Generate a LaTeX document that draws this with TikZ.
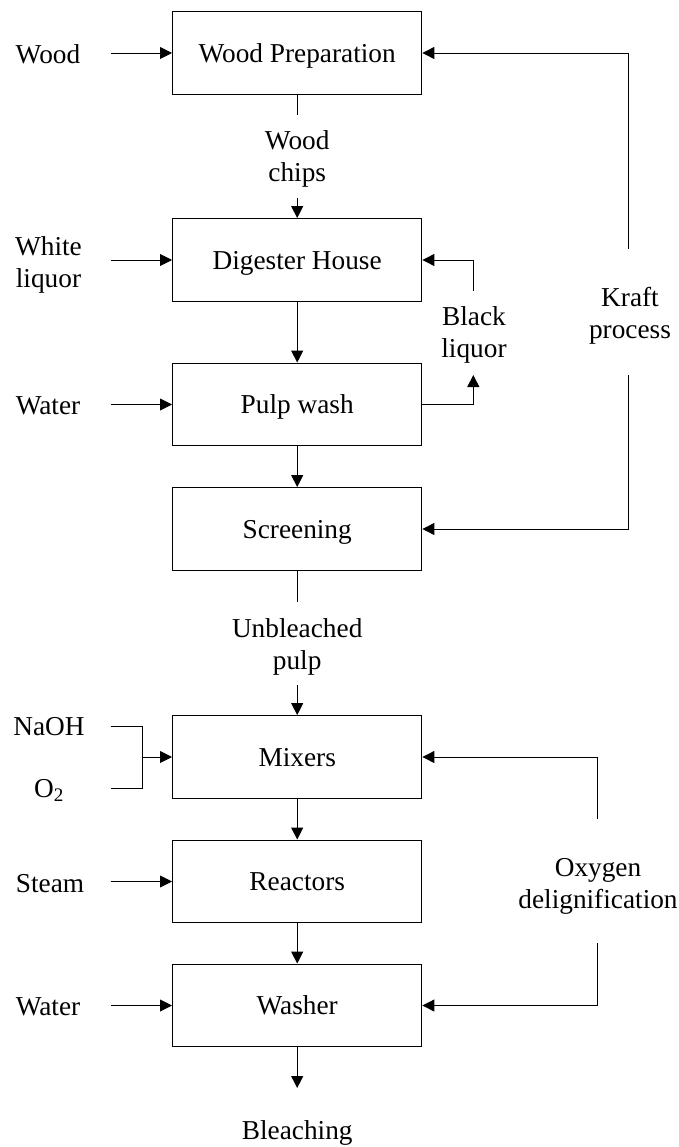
\documentclass[tikz,border=0pt]{standalone}
\usepackage{fontspec}
\setmainfont{Liberation Serif}
\usetikzlibrary{arrows.meta}
\begin{document}
\begin{tikzpicture}[x=1pt,y=-1pt,
  font=\fontsize{27.3}{32}\selectfont,
  procbox/.style={draw, line width=1.4pt, minimum width=249pt, minimum height=82.5pt, inner sep=0pt, align=center, text depth=0pt},
  lbl/.style={inner sep=0pt, align=center, text depth=0pt},
  conn/.style={line width=0.9pt},
  arr/.style={conn, -{Triangle[length=12pt,width=12pt]}}]
\useasboundingbox (0,0) rectangle (679,1147);
% boxes
\node[procbox] (b1) at (297.2,53) {Wood Preparation};
\node[procbox] (b2) at (297.2,260) {Digester House};
\node[procbox] (b3) at (297.2,404.5) {Pulp wash};
\node[procbox] (b4) at (297.2,529) {Screening};
\node[procbox] (b5) at (297.2,757) {Mixers};
\node[procbox] (b6) at (297.2,881.5) {Reactors};
\node[procbox] (b7) at (297.2,1005.5) {Washer};
% left labels
\node[lbl] (wood) at (48,53.8) {Wood};
\node[lbl] (white) at (48.5,262) {White\\liquor};
\node[lbl] (water1) at (48,405.6) {Water};
\node[lbl] (naoh) at (49,726.7) {NaOH};
\node[lbl] (o2) at (49,788) {O\textsubscript{2}};
\node[lbl] (steam) at (50,883) {Steam};
\node[lbl] (water2) at (48,1006.7) {Water};
% middle labels
\node[lbl] (chips) at (297.2,156.5) {Wood\\chips};
\node[lbl] (unbl) at (297.2,644.5) {Unbleached\\pulp};
\node[lbl] (bleach) at (297.2,1130) {Bleaching};
\node[lbl] (black) at (474,332) {Black\\liquor};
\node[lbl] (kraft) at (630,313) {Kraft\\process};
\node[lbl] (oxy) at (598,883) {Oxygen\\delignification};
% coordinates
\coordinate (win1) at (110.7,53);
\coordinate (win2) at (110.7,260);
\coordinate (win3) at (110.7,404.5);
\coordinate (nA) at (110.7,726);
\coordinate (oA) at (110.7,788.3);
\coordinate (jn) at (142.7,757);
\coordinate (win6) at (110.7,881.5);
\coordinate (win7) at (110.7,1005.5);
\coordinate (s1) at (297.2,115);
\coordinate (s2) at (297.2,198);
\coordinate (s3) at (297.2,602);
\coordinate (s4) at (297.2,685);
\coordinate (s5) at (297.2,1088);
\coordinate (blA) at (473.3,375);
\coordinate (blB) at (473.3,291);
\coordinate (kA) at (628.3,249);
\coordinate (kB) at (628.3,375);
\coordinate (oxA) at (597.7,819);
\coordinate (oxB) at (597.7,943);
% inputs
\draw[arr] (win1) -- (b1.west);
\draw[arr] (win2) -- (b2.west);
\draw[arr] (win3) -- (b3.west);
\draw[conn] (nA) -| (jn) |- (oA);
\draw[arr] (jn) -- (b5.west);
\draw[arr] (win6) -- (b6.west);
\draw[arr] (win7) -- (b7.west);
% main flow
\draw[conn] (b1.south) -- (s1);
\draw[arr] (s2) -- (b2.north);
\draw[arr] (b2.south) -- (b3.north);
\draw[arr] (b3.south) -- (b4.north);
\draw[conn] (b4.south) -- (s3);
\draw[arr] (s4) -- (b5.north);
\draw[arr] (b5.south) -- (b6.north);
\draw[arr] (b6.south) -- (b7.north);
\draw[arr] (b7.south) -- (s5);
% black liquor
\draw[arr] (b3.east) -| (blA);
\draw[arr] (blB) |- (b2.east);
% kraft
\draw[arr] (kA) |- (b1.east);
\draw[arr] (kB) |- (b4.east);
% oxygen
\draw[arr] (oxA) |- (b5.east);
\draw[arr] (oxB) |- (b7.east);
\end{tikzpicture}
\end{document}
